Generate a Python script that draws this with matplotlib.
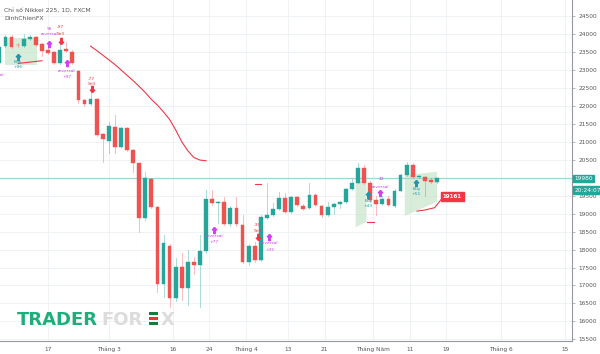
import numpy as np
import matplotlib
matplotlib.use("Agg")
from matplotlib import pyplot as plt
from matplotlib.patches import Polygon, Rectangle

# daily candles, x = weekday index counted from 17 Feb
idx = list(range(-8, 65))
opens = [23200, 23665, 23925, 23700, 23665, 23860, 23925, 23710, 23550, 23490,
         23180, 23580, 23510, 22970, 22160, 22050, 22180, 21210, 21010, 21420,
         20865, 21375, 20770, 20400, 18870, 19965, 19175, 17040, 18110, 16645,
         17510, 16930, 17645, 17570, 17960, 19400, 19300, 19315, 18710, 19165,
         18680, 17660, 18110, 17710, 18890, 18960, 19120, 19425, 19055, 19455,
         19220, 19150, 19515, 19210, 18960, 19195, 19270, 19315, 19680, 19860,
         20280, 19860, 19380, 19270, 19400, 19210, 19640, 20075, 20355, 20020,
         20030, 19935, 19880]
highs = [23700, 23960, 23960, 23760, 24000, 23960, 23950, 23740, 23600, 23520,
         23760, 23785, 23560, 23000, 22200, 22530, 22210, 21250, 21560, 21745,
         21420, 21400, 20800, 20420, 20165, 19990, 19200, 18405, 18150, 17765,
         17905, 17980, 17800, 18400, 19660, 19660, 19360, 19470, 19200, 19470,
         18960, 18150, 18200, 18960, 19845, 19300, 19610, 19570, 19500, 19500,
         19260, 19845, 19570, 19250, 19330, 19300, 19360, 19720, 19950, 20400,
         20350, 19900, 19500, 19500, 19480, 19680, 20100, 20450, 20400, 20080,
         20060, 19990, 20000]
lows = [23150, 23640, 23600, 23640, 23640, 23830, 23660, 23400, 23450, 23150,
        23160, 23500, 23160, 22080, 21990, 22020, 21150, 20450, 20690, 20690,
        20820, 20740, 20165, 18500, 18820, 19150, 16830, 16690, 16410, 16580,
        16600, 16470, 17330, 16410, 17900, 19250, 18730, 18680, 18650, 18650,
        17620, 17560, 17650, 17680, 18850, 18930, 19090, 19020, 19020, 19200,
        19100, 19120, 19200, 18900, 18930, 19000, 19150, 19290, 19650, 19840,
        19820, 19350, 18960, 19240, 19200, 19180, 19620, 20050, 19990, 20000,
        19500, 19860, 19860]
closes = [23650, 23925, 23645, 23680, 23850, 23925, 23690, 23535, 23480, 23180,
          23555, 23525, 23180, 22160, 22050, 22180, 21190, 21070, 21440, 20865,
          21375, 20770, 20420, 18870, 19985, 19175, 17040, 18170, 16645, 17510,
          16930, 17645, 17570, 17960, 19400, 19305, 19330, 18710, 19165, 18705,
          17660, 18110, 17710, 18915, 18960, 19130, 19425, 19055, 19455, 19240,
          19130, 19515, 19240, 18960, 19175, 19270, 19330, 19680, 19860, 20280,
          19845, 19380, 19270, 19400, 19230, 19640, 20075, 20355, 20010, 20040,
          19920, 19880, 19980]

# moving average drawn in red
ma_idx = list(range(7, 27))
ma_vals = [23660, 23540, 23410, 23280, 23150, 23000, 22850, 22700, 22540, 22370,
           22180, 22020, 21830, 21620, 21330, 21000, 20750, 20560, 20490, 20470]
left_seg_idx = [-4.9, -1.0]
left_seg_vals = [23180, 23255]
end_seg_idx = [60.7, 62.0, 63.6, 64.8]
end_seg_vals = [19070, 19100, 19165, 19420]
stub_lines = [(34.1, 35.0, 19830), (52.5, 53.6, 18760)]

# signal zones
zones = [
    [(-7.1, 23900), (-1.8, 23900), (-1.8, 23140), (-7.1, 23140)],
    [(50.6, 19860), (50.6, 18620), (52.4, 18775), (52.4, 19935)],
    [(58.7, 20075), (58.7, 18935), (64.0, 19330), (64.0, 20165)],
]

# signal labels: (x, y, text, kind)
labels = [
    (0.2, 24140, "96", "rev"), (0.2, 24000, "reversal", "rev"),
    (2.1, 24185, "-97", "sell"), (2.1, 24000, "Sell", "sell"),
    (-5.0, 23210, "Buy", "buy"), (-4.9, 23070, "+96", "buy"),
    (-8.6, 23050, "97", "rev"), (-8.6, 22860, "reversal", "rev"), (-8.6, 22660, "+14", "rev"),
    (3.1, 22980, "reversal", "rev"), (3.1, 22795, "+97", "rev"),
    (7.2, 22740, "-77", "sell"), (7.2, 22600, "Sell", "sell"),
    (27.3, 18385, "reversal", "rev"), (27.4, 18220, "+77", "rev"),
    (34.5, 18685, "-35", "sell"), (34.5, 18525, "Sell", "sell"),
    (36.5, 18175, "reversal", "rev"), (36.5, 17990, "+35", "rev"),
    (54.9, 19965, "43", "rev"), (54.7, 19750, "reversal", "rev"),
    (52.7, 19360, "Buy", "buy"), (52.7, 19220, "+43", "buy"),
    (60.6, 19695, "Buy", "buy"), (60.6, 19545, "+51", "buy"),
]
up_arrows = [(0.1, 23720, "rev"), (-5.0, 23360, "buy"), (3.1, 23180, "rev"),
             (27.3, 18545, "rev"), (36.4, 18340, "rev"), (54.6, 19565, "rev"),
             (52.7, 19520, "buy"), (60.6, 19860, "buy")]
down_arrows = [(2.1, 23810), (7.2, 22460), (34.5, 18340)]

tick_pos = [0, 10, 20.5, 26.5, 32.5, 39.5, 45.5, 53.5, 59.5, 65.5, 74.5, 85]
tick_lab = ["17", "Tháng 3", "16", "24", "Tháng 4", "13", "21", "Tháng Năm",
            "11", "19", "Tháng 6", "15"]
y_ticks = list(range(15500, 25000, 500))
last_price = 19980
timer_price = 19655
stop_price = "19161"

UP = "#26a69a"
DOWN = "#ef5350"
PURPLE = "#d042f0"
SELL = "#f23645"
BUY = "#2196a8"
kind_col = {"rev": PURPLE, "sell": SELL, "buy": BUY}

fig = plt.figure(figsize=(6, 3.54), dpi=100)
ax = fig.add_axes([0, 13 / 354, 572 / 600, 341 / 354])
ax.set_xlim(-7.9, 86.2)
ax.set_ylim(15455, 24945)

for z in zones:
    ax.add_patch(Polygon(z, closed=True, facecolor="#c8e6c9", alpha=0.7,
                         edgecolor="none", zorder=1))

w = 0.62
for i, o, h, l, c in zip(idx, opens, highs, lows, closes):
    col = UP if c >= o else DOWN
    ax.plot([i, i], [l, h], color=col, lw=0.6, alpha=0.45, zorder=2)
    bot = min(o, c)
    hgt = max(abs(c - o), 25)
    ax.add_patch(Rectangle((i - w / 2, bot), w, hgt, facecolor=col,
                           edgecolor=col, lw=0.3, zorder=3))

ax.plot(ma_idx, ma_vals, color=SELL, lw=0.8, zorder=4)
ax.plot(left_seg_idx, left_seg_vals, color=SELL, lw=0.8, zorder=4)
ax.plot(end_seg_idx, end_seg_vals, color=SELL, lw=0.8, zorder=4)
for x0, x1, yv in stub_lines:
    ax.plot([x0, x1], [yv, yv], color=SELL, lw=0.8, zorder=4)

ax.axhline(last_price, color="#9fd6d0", lw=0.9, zorder=1.5)

arrow_up = [(0, 1), (-0.7, 0.2), (-0.25, 0.2), (-0.25, -1), (0.25, -1),
            (0.25, 0.2), (0.7, 0.2), (0, 1)]
arrow_dn = [(x, -y) for x, y in arrow_up]
for x, y, k in up_arrows:
    ax.plot(x, y, marker=arrow_up, ms=4.5, color=kind_col[k], ls="none", zorder=5)
for x, y in down_arrows:
    ax.plot(x, y, marker=arrow_dn, ms=4.5, color=SELL, ls="none", zorder=5)
for x, y, t, k in labels:
    ax.text(x, y, t, color=kind_col[k], fontsize=3.2, ha="center", va="center",
            zorder=6, clip_on=True)

ax.annotate(stop_price, xy=(end_seg_idx[-1], end_seg_vals[-1]),
            xytext=(66.5, 19485), fontsize=4, color="white", fontweight="bold",
            ha="center", va="center", zorder=7,
            bbox=dict(boxstyle="square,pad=0.35", fc="#f23645", ec="#f23645"))

# axes styling
for s in ["left", "top"]:
    ax.spines[s].set_visible(False)
for s in ["right", "bottom"]:
    ax.spines[s].set_color("#9598a1")
    ax.spines[s].set_linewidth(0.8)
ax.yaxis.tick_right()
ax.set_yticks(y_ticks)
# the 20000 label sits under the last-price tag, as on the reference
ax.set_yticklabels(["" if v == 20000 else str(v) for v in y_ticks])
ax.set_xticks(tick_pos)
ax.set_xticklabels(tick_lab)
ax.tick_params(axis="y", length=2.5, width=0.5, color="#9598a1", labelsize=4.2,
               labelcolor="#555555", pad=2)
ax.tick_params(axis="x", length=0, labelsize=4.2, labelcolor="#555555", pad=4)
ax.grid(True, color="#eef1f5", lw=0.6, zorder=0)
ax.set_axisbelow(True)

tr = ax.get_yaxis_transform()
ax.text(1.004, last_price, str(last_price), transform=tr, fontsize=4.2,
        color="white", ha="left", va="center", clip_on=False,
        bbox=dict(boxstyle="square,pad=0.2", fc=UP, ec=UP))
ax.text(1.004, timer_price, "20:24:07", transform=tr, fontsize=4.2,
        color="white", ha="left", va="center", clip_on=False,
        bbox=dict(boxstyle="square,pad=0.2", fc=UP, ec=UP))

fig.text(4 / 600, 1 - 10 / 354, "Chỉ số Nikkei 225, 1D, FXCM", fontsize=4.4,
         color="#555555", va="center")
fig.text(4 / 600, 1 - 19 / 354, "DinhChienFX", fontsize=4.4,
         color="#555555", va="center")

# watermark
fig.text(17 / 600, 1 - 325 / 354, "TRADER", fontsize=13, fontweight="heavy",
         color="#1fae7a", va="baseline")
fig.text(101 / 600, 1 - 325 / 354, "FOR", fontsize=13, fontweight="heavy",
         color="#dcdcdc", va="baseline")
fig.text(161 / 600, 1 - 325 / 354, "X", fontsize=13, fontweight="heavy",
         color="#dcdcdc", va="baseline")
fig.patches.extend([
    Rectangle((149 / 600, 1 - 315 / 354), 9 / 600, 3 / 354, fc="#1a7a3c",
              transform=fig.transFigure, figure=fig),
    Rectangle((149 / 600, 1 - 320 / 354), 9 / 600, 3 / 354, fc="#e53935",
              transform=fig.transFigure, figure=fig),
    Rectangle((149 / 600, 1 - 325 / 354), 9 / 600, 3 / 354, fc="#1a7a3c",
              transform=fig.transFigure, figure=fig),
])

fig.savefig("out.png", dpi=100)
